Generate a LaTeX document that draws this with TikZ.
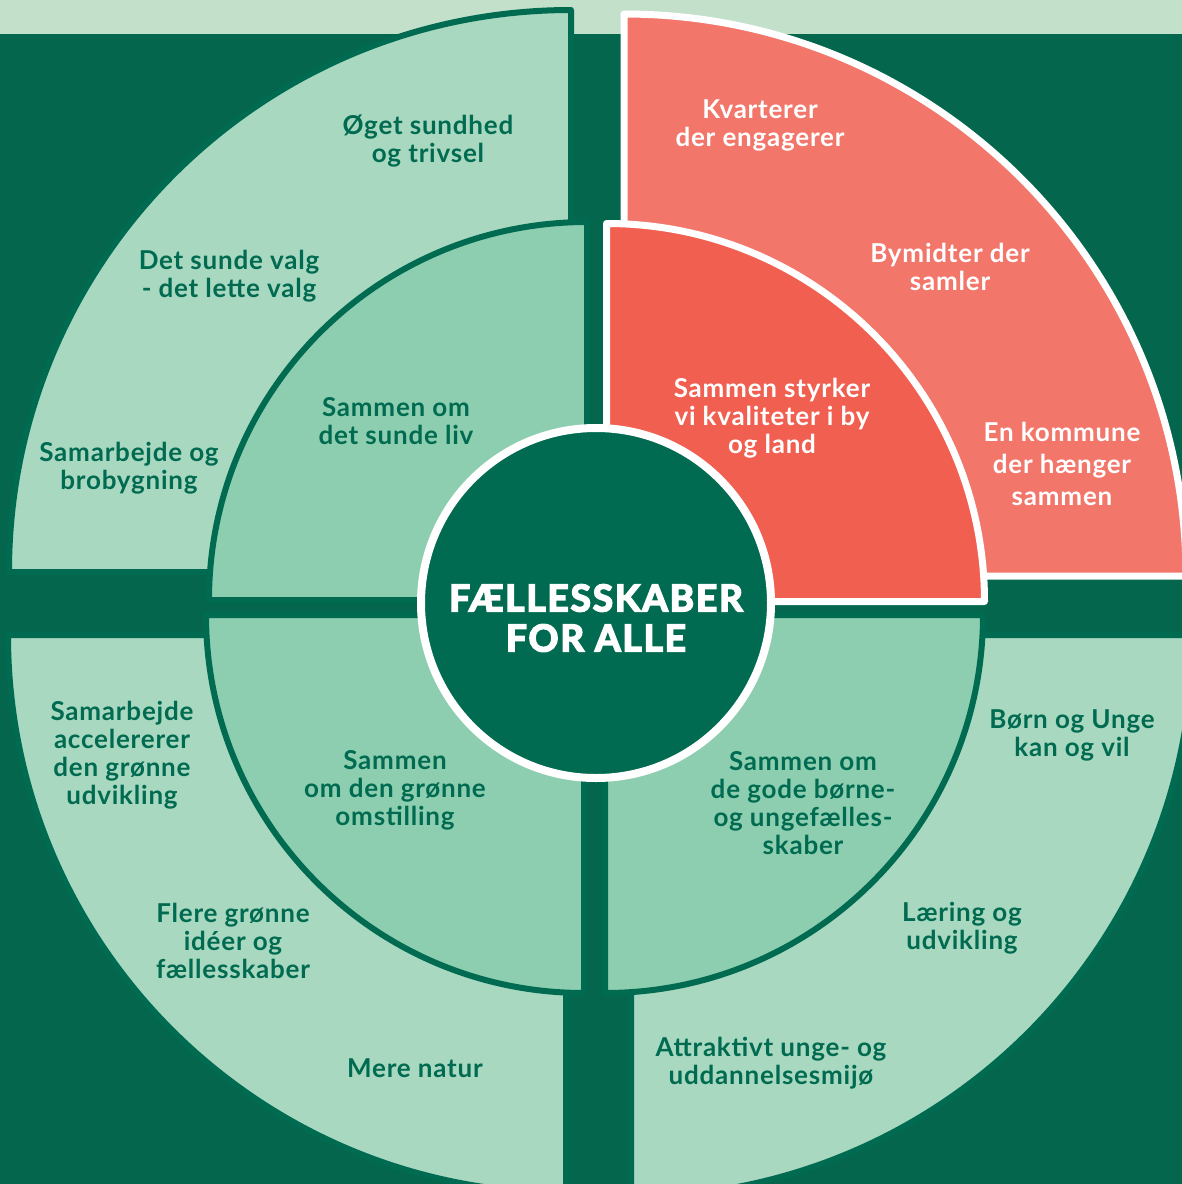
\documentclass[tikz,border=0pt]{standalone}
\usepackage{fontspec}
\setmainfont{Lato}[LetterSpace=3]
\newfontfamily\titlefont{Lato Bold}[LetterSpace=5]
\newcommand\heavytext[1]{\special{pdf:literal direct 1 1 1 RG 2 Tr 1.6 w}#1\special{pdf:literal direct 0 Tr}}
\usetikzlibrary{positioning}
\definecolor{bggreen}{HTML}{03664D}
\definecolor{edgegreen}{HTML}{006B50}
\definecolor{stripgreen}{HTML}{C3E1CA}
\definecolor{outergreen}{HTML}{A8D8C0}
\definecolor{innergreen}{HTML}{8DCEB0}
\definecolor{outerred}{HTML}{F2766A}
\definecolor{innerred}{HTML}{F15F50}
\tikzstyle{greenlbl} = [text=edgegreen, align=center, inner sep=0pt, font=\fontsize{26}{28}\selectfont\bfseries]
\tikzstyle{redlbl} = [greenlbl, text=white]
\tikzstyle{greenpart} = [draw=edgegreen, line width=6pt, line join=round]
\tikzstyle{redpart} = [draw=white, line width=7pt, line join=round]

\begin{document}
\begin{tikzpicture}[x=1pt, y=1pt]
\useasboundingbox (0,0) rectangle (1182,-1184);
\fill[bggreen] (0,0) rectangle (1182,-1184);
\fill[stripgreen] (0,0) rectangle (1182,-34);

% outer ring
\filldraw[greenpart, fill=outergreen] (571,-572) -- ++(-562,0) arc[start angle=180, end angle=90, radius=562] -- cycle;
\filldraw[redpart, fill=outerred] (624,-576) -- ++(0,562) arc[start angle=90, end angle=0, radius=562] -- cycle;
\filldraw[greenpart, fill=outergreen] (566,-635) -- ++(-558,0) arc[start angle=180, end angle=270, radius=558] -- cycle;
\filldraw[greenpart, fill=outergreen] (631,-635) -- ++(562,0) arc[start angle=0, end angle=-90, radius=562] -- cycle;

% inner ring
\filldraw[greenpart, fill=innergreen] (587,-600) -- ++(-378,0) arc[start angle=180, end angle=90, radius=378] -- cycle;
\filldraw[redpart, fill=innerred] (606.5,-601.5) -- ++(0,378) arc[start angle=90, end angle=0, radius=378] -- cycle;
\filldraw[greenpart, fill=innergreen] (584,-615) -- ++(-378,0) arc[start angle=180, end angle=270, radius=378] -- cycle;
\filldraw[greenpart, fill=innergreen] (605,-615) -- ++(378,0) arc[start angle=0, end angle=-90, radius=378] -- cycle;

\node (hub) [circle, fill=edgegreen, draw=white, line width=8pt, minimum size=350pt, inner sep=0pt] at (596,-603) {};
\node (title) [text=white, align=center, inner sep=0pt, font=\titlefont\fontsize{37}{40}\selectfont] at (596,-618) {\heavytext{FÆLLESSKABER}\\\heavytext{FOR ALLE}};

% top left
\node (sundhed) [greenlbl] at (428,-141) {Øget sundhed\\og trivsel};
\node (valg) [greenlbl] at (229,-276) {Det sunde valg\\- det lette valg};
\node (brobygning) [greenlbl] at (129,-468) {Samarbejde og\\brobygning};
\node (sundeliv) [greenlbl] at (396,-421) {Sammen om\\det sunde liv};

% top right
\node (kvarterer) [redlbl] at (760,-125) {Kvarterer\\der engagerer};
\node (bymidter) [redlbl] at (950,-267) {Bymidter der\\samler};
\node (kommune) [redlbl] at (1062,-464) {En kommune\\[4pt]der hænger\\[4pt]sammen};
\node (kvaliteter) [redlbl] at (772,-418) {Sammen styrker\\vi kvaliteter i by\\og land};

% bottom left
\node (accelererer) [greenlbl] at (122,-755) {Samarbejde\\accelererer\\den grønne\\udvikling};
\node (ideer) [greenlbl] at (233,-941) {Flere grønne\\idéer og\\fællesskaber};
\node (natur) [greenlbl] at (415,-1068) {Mere natur};
\node (omstilling) [greenlbl] at (395,-790) {Sammen\\om den grønne\\omstilling};

% bottom right
\node (boernefaellesskaber) [greenlbl] at (803,-803) {Sammen om\\de gode børne-\\og ungefælles-\\skaber};
\node (boernunge) [greenlbl] at (1072,-735) {Børn og Unge\\kan og vil};
\node (laering) [greenlbl] at (962,-928) {Læring og\\udvikling};
\node (miljoe) [greenlbl] at (771,-1063) {Attraktivt unge- og\\uddannelsesmijø};

\end{tikzpicture}
\end{document}
